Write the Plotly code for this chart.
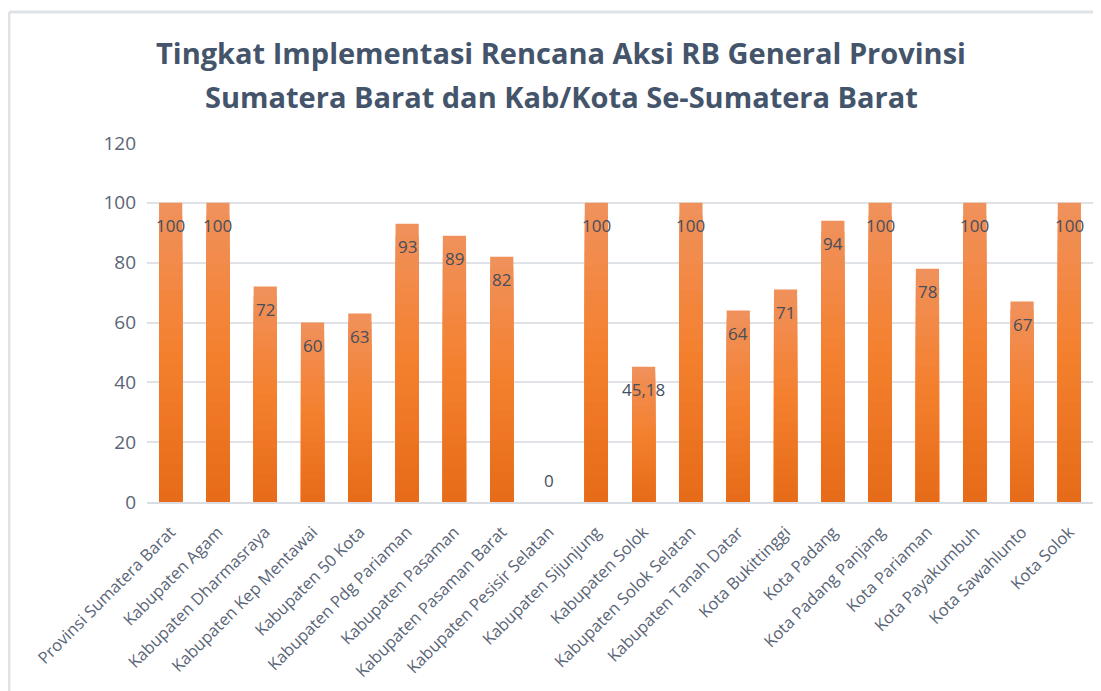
import plotly.graph_objects as go

categories = [
    "Provinsi Sumatera Barat", "Kabupaten Agam", "Kabupaten Dharmasraya",
    "Kabupaten Kep Mentawai", "Kabupaten 50 Kota", "Kabupaten Pdg Pariaman",
    "Kabupaten Pasaman", "Kabupaten Pasaman Barat", "Kabupaten Pesisir Selatan",
    "Kabupaten Sijunjung", "Kabupaten Solok", "Kabupaten Solok Selatan",
    "Kabupaten Tanah Datar", "Kota Bukittinggi", "Kota Padang",
    "Kota Padang Panjang", "Kota Pariaman", "Kota Payakumbuh",
    "Kota Sawahlunto", "Kota Solok",
]
values = [100, 100, 72, 60, 63, 93, 89, 82, 0, 100, 45.18, 100, 64, 71, 94, 100, 78, 100, 67, 100]
y_ticks = [0, 20, 40, 60, 80, 100, 120]
title_lines = ["Tingkat Implementasi Rencana Aksi RB General Provinsi",
               "Sumatera Barat dan Kab/Kota Se-Sumatera Barat"]


def fmt(v):
    s = ("%g" % v)
    return s.replace(".", ",")


# gradient: bottom dark -> middle bright -> top light
stops = [(0.0, (230, 107, 24)), (0.5, (244, 128, 46)), (1.0, (240, 145, 92))]


def lerp_color(t):
    for (t0, c0), (t1, c1) in zip(stops[:-1], stops[1:]):
        if t0 <= t <= t1:
            f = (t - t0) / (t1 - t0)
            return "rgb(%d,%d,%d)" % tuple(round(a + (b - a) * f) for a, b in zip(c0, c1))
    return "rgb(%d,%d,%d)" % stops[-1][1]


W, H = 1093, 683
ML, MR, MT, MB = 139, 8, 135, 189
PW, PH = W - ML - MR, H - MT - MB

N = 24
fig = go.Figure()
for k in range(N, 0, -1):
    frac = k / N
    fig.add_trace(go.Bar(
        x=categories,
        y=[v * frac for v in values],
        marker=dict(color=lerp_color((k - 0.5) / N), line=dict(width=0)),
        width=0.49,
        hoverinfo="skip" if k != N else None,
        showlegend=False,
    ))

for c, v in zip(categories, values):
    fig.add_annotation(
        x=c, y=v, text=fmt(v), showarrow=False, yshift=-23 if v > 0 else 22,
        font=dict(family="Open Sans", size=17, color="#474e5c"),
    )

# title lines (two annotations for precise spacing)
for line, cy in zip(title_lines, [44, 89]):
    fig.add_annotation(
        xref="paper", yref="paper",
        x=(553 - ML) / PW, y=(H - MB - cy) / PH,
        xanchor="center", yanchor="middle", showarrow=False,
        text="<b>" + line + "</b>",
        font=dict(family="Open Sans", size=29, color="#44546A"),
    )

fig.update_layout(
    barmode="overlay",
    width=W, height=H,
    paper_bgcolor="white", plot_bgcolor="white",
    margin=dict(l=ML, r=MR, t=MT, b=MB),
    font=dict(family="Open Sans", color="#5a6577"),
)
fig.update_xaxes(
    tickangle=-45, tickfont=dict(size=16.5, color="#5a6577"),
    showline=True, linecolor="#d9dde3", linewidth=2, ticks="",
    ticklabelstandoff=12,
)
fig.update_yaxes(
    range=[0, 120], tickvals=y_ticks, tickfont=dict(size=19, color="#5a6577"),
    showgrid=True, gridcolor="#dfe3e8", gridwidth=2, zeroline=False,
    ticklabelstandoff=10,
)
# chart frame (top and left edges)
fx = (1 - ML) / PW
fy = (H - MB - 4) / PH
fig.add_shape(type="line", xref="paper", yref="paper", x0=fx, x1=(W - ML) / PW, y0=fy, y1=fy,
              line=dict(color="#dfe3e8", width=3))
fig.add_shape(type="line", xref="paper", yref="paper", x0=fx, x1=fx, y0=fy, y1=-MB / PH,
              line=dict(color="#dfe3e8", width=3))

fig.write_html("out.html")
